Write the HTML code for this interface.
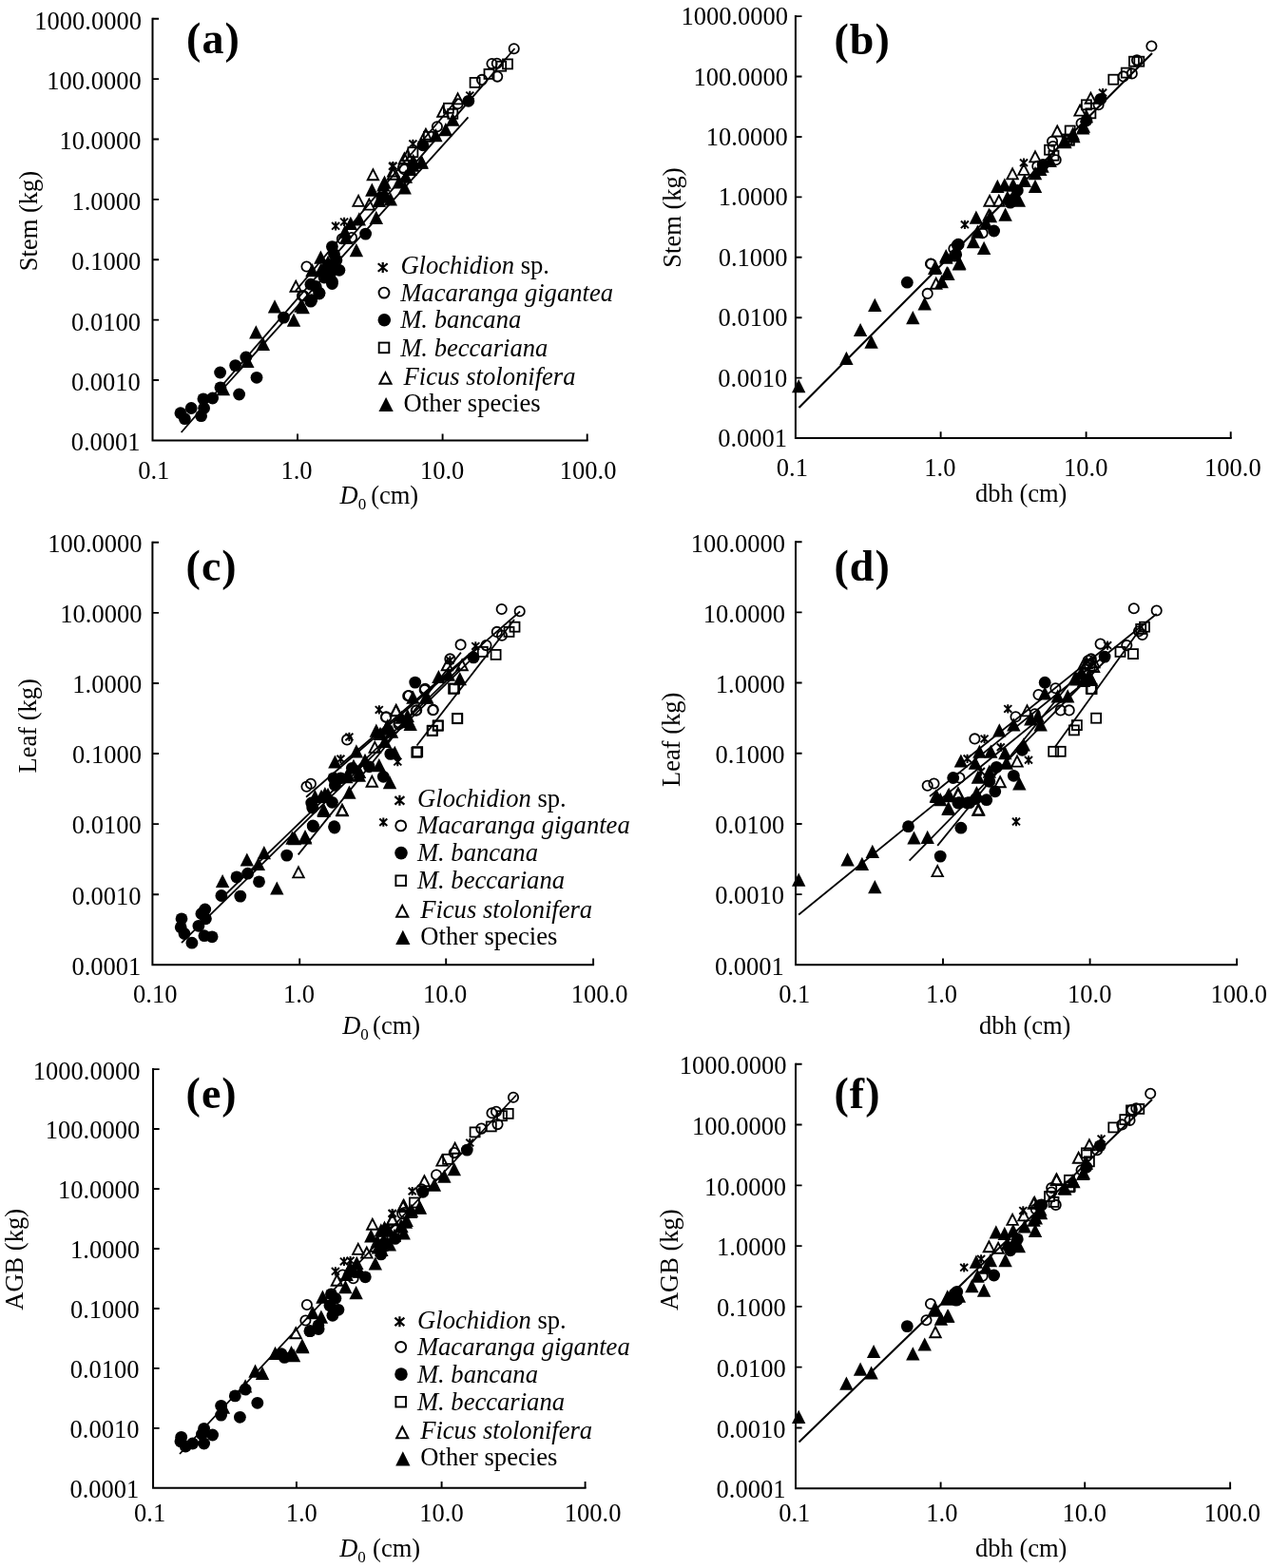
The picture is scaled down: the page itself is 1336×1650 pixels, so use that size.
<!DOCTYPE html>
<html lang="en"><head><meta charset="utf-8"><title>Allometric relationships</title>
<style>html,body{margin:0;padding:0;background:#fff}svg{display:block}text{font-family:'Liberation Serif','Times New Roman',Times,serif;fill:#000}.tk{font-size:26.5px}.ax{font-size:26.5px}.tag{font-size:46px;font-weight:bold;letter-spacing:1px}.lg{font-size:26.6px}.i{font-style:italic}</style></head><body>
<svg width="1336" height="1650" viewBox="0 0 1336 1650" role="img" aria-label="Allometric relationships between stem diameter and stem, leaf and aboveground biomass">
<rect width="1336" height="1650" fill="#fff"/>
<defs><g id="fc"><circle r="6.4" fill="#000"/></g><g id="oc"><circle r="5.15" fill="none" stroke="#000" stroke-width="1.8"/></g><g id="sq"><rect x="-5" y="-5" width="10" height="10" fill="none" stroke="#000" stroke-width="1.8"/></g><g id="ot"><path d="M0 -5L5.7 6L-5.7 6Z" fill="none" stroke="#000" stroke-width="1.9" stroke-linejoin="miter"/></g><g id="ft"><path d="M0 -7.2L7.2 7L-7.2 7Z" fill="#000"/></g><g id="st"><path d="M0 -4.6V4.6M-4 -3.8L4 3.8M4 -3.8L-4 3.8" stroke="#000" stroke-width="2" fill="none"/></g><g id="stl"><path d="M0 -5.2V5.2M-4.7 -4L4.7 4M4.7 -4L-4.7 4" stroke="#000" stroke-width="2.1" fill="none"/></g></defs>
<g id="panel-a">
<path d="M160.5 18.8V463.4H618.7" fill="none" stroke="#000" stroke-width="2"/>
<path d="M160.5 19.8h6.6M160.5 83.17h6.6M160.5 146.54h6.6M160.5 209.91h6.6M160.5 273.29h6.6M160.5 336.66h6.6M160.5 400.03h6.6M313 463.4v-6.8M465.6 463.4v-6.8M617.7 463.4v-6.8" fill="none" stroke="#000" stroke-width="1.9"/>
<text class="tk" x="148.9" y="30.7" text-anchor="end">1000.0000</text>
<text class="tk" x="148.71" y="94.07" text-anchor="end">100.0000</text>
<text class="tk" x="148.53" y="157.44" text-anchor="end">10.0000</text>
<text class="tk" x="148.34" y="220.81" text-anchor="end">1.0000</text>
<text class="tk" x="148.16" y="284.19" text-anchor="end">0.1000</text>
<text class="tk" x="147.97" y="347.56" text-anchor="end">0.0100</text>
<text class="tk" x="147.79" y="410.93" text-anchor="end">0.0010</text>
<text class="tk" x="147.6" y="474.3" text-anchor="end">0.0001</text>
<text class="tk" x="145.2" y="504.2">0.1</text>
<text class="tk" x="295.4" y="504.2">1.0</text>
<text class="tk" x="441.9" y="504.2">10.0</text>
<text class="tk" x="588.8" y="504.2">100.0</text>
<text class="tag" x="196.1" y="55.8">(a)</text>
<text class="ax" transform="translate(39 232.6) rotate(-90)" text-anchor="middle">Stem (kg)</text>
<text class="ax" x="357.5" y="530.2"><tspan class="i">D</tspan><tspan font-size="17" dy="5.5">0</tspan><tspan dy="-5.5" dx="-1.6"> (cm)</tspan></text>
<line x1="190.7" y1="455" x2="541.5" y2="51" stroke="#000" stroke-width="1.85"/>
<line x1="236" y1="407.5" x2="492.5" y2="123.3" stroke="#000" stroke-width="1.85"/>
<line x1="311" y1="306" x2="481.6" y2="104" stroke="#000" stroke-width="1.85"/>
<use href="#ot" x="392.4" y="183.2"/>
<use href="#ot" x="377.1" y="210.9"/>
<use href="#ot" x="388.3" y="214.6"/>
<use href="#ot" x="413.8" y="179.5"/>
<use href="#ot" x="311.2" y="300.7"/>
<use href="#ot" x="428.7" y="163"/>
<use href="#ot" x="481.6" y="103.4"/>
<use href="#ot" x="465.9" y="116.8"/>
<use href="#ot" x="447.9" y="140.8"/>
<use href="#ot" x="425.4" y="166.2"/>
<use href="#ot" x="413.5" y="182.7"/>
<use href="#sq" x="534" y="67.4"/>
<use href="#sq" x="527.2" y="69.7"/>
<use href="#sq" x="514.5" y="77.9"/>
<use href="#sq" x="499.6" y="86.9"/>
<use href="#sq" x="471.9" y="113.8"/>
<use href="#sq" x="450.9" y="143.8"/>
<use href="#sq" x="434.4" y="160.2"/>
<use href="#sq" x="476.3" y="119.8"/>
<use href="#oc" x="322.5" y="280.5"/>
<use href="#oc" x="318" y="311.2"/>
<use href="#oc" x="424" y="176.5"/>
<use href="#oc" x="359.9" y="251.3"/>
<use href="#oc" x="370" y="250"/>
<use href="#oc" x="319.4" y="311.2"/>
<use href="#oc" x="540.7" y="51.3"/>
<use href="#oc" x="517.5" y="67.1"/>
<use href="#oc" x="522.8" y="66.7"/>
<use href="#oc" x="523.2" y="80.6"/>
<use href="#oc" x="507" y="83.9"/>
<use href="#oc" x="481.6" y="109.3"/>
<use href="#oc" x="459.9" y="133.3"/>
<use href="#oc" x="425.4" y="178.2"/>
<use href="#st" x="353.1" y="237.8"/>
<use href="#st" x="362.1" y="233.4"/>
<use href="#st" x="413" y="175"/>
<use href="#st" x="494.3" y="100.4"/>
<use href="#st" x="434.4" y="151.3"/>
<use href="#st" x="413.5" y="174.5"/>
<use href="#ft" x="234.9" y="409.3"/>
<use href="#ft" x="260.3" y="380"/>
<use href="#ft" x="269.3" y="349.4"/>
<use href="#ft" x="276.8" y="362"/>
<use href="#ft" x="289" y="322.5"/>
<use href="#ft" x="309" y="336.7"/>
<use href="#ft" x="318.7" y="323.2"/>
<use href="#ft" x="374.9" y="263.3"/>
<use href="#ft" x="395.8" y="228.9"/>
<use href="#ft" x="391.3" y="199.7"/>
<use href="#ft" x="403.3" y="194.4"/>
<use href="#ft" x="425.7" y="197.4"/>
<use href="#ft" x="443.7" y="170.5"/>
<use href="#ft" x="377.8" y="230.4"/>
<use href="#ft" x="368.9" y="234.9"/>
<use href="#ft" x="337.4" y="270.8"/>
<use href="#ft" x="328.4" y="284.3"/>
<use href="#ft" x="337.4" y="284.3"/>
<use href="#ft" x="316.5" y="321.7"/>
<use href="#ft" x="404.8" y="203.4"/>
<use href="#ft" x="398.8" y="210.9"/>
<use href="#ft" x="410.8" y="209.4"/>
<use href="#ft" x="419.8" y="191.4"/>
<use href="#ft" x="431.7" y="178"/>
<use href="#ft" x="362.9" y="243.8"/>
<use href="#ft" x="434.7" y="169"/>
<use href="#ft" x="476.3" y="125.8"/>
<use href="#ft" x="468.9" y="136.3"/>
<use href="#ft" x="458.4" y="142.3"/>
<use href="#ft" x="443.4" y="170.7"/>
<use href="#ft" x="434.4" y="173.7"/>
<use href="#ft" x="426.9" y="185.7"/>
<use href="#ft" x="404.5" y="191.7"/>
<use href="#fc" x="189.9" y="434.7"/>
<use href="#fc" x="194.4" y="440.7"/>
<use href="#fc" x="201.2" y="429.5"/>
<use href="#fc" x="211.6" y="437.7"/>
<use href="#fc" x="214.6" y="429.5"/>
<use href="#fc" x="213.9" y="419.8"/>
<use href="#fc" x="223.6" y="419"/>
<use href="#fc" x="231.9" y="407.8"/>
<use href="#fc" x="231.6" y="392"/>
<use href="#fc" x="251.6" y="415"/>
<use href="#fc" x="270" y="397.3"/>
<use href="#fc" x="247.6" y="384.6"/>
<use href="#fc" x="258.8" y="376"/>
<use href="#fc" x="298.5" y="334.1"/>
<use href="#fc" x="327.7" y="315.7"/>
<use href="#fc" x="335.9" y="309"/>
<use href="#fc" x="332.2" y="301.5"/>
<use href="#fc" x="349.4" y="298.5"/>
<use href="#fc" x="384.6" y="246.1"/>
<use href="#fc" x="349.4" y="259.6"/>
<use href="#fc" x="353.9" y="273.8"/>
<use href="#fc" x="356.9" y="284.3"/>
<use href="#fc" x="349.4" y="296.2"/>
<use href="#fc" x="326.9" y="299.2"/>
<use href="#fc" x="335.9" y="308.2"/>
<use href="#fc" x="326.9" y="317.2"/>
<use href="#fc" x="346.4" y="278.3"/>
<use href="#fc" x="401.8" y="207.9"/>
<use href="#fc" x="492.8" y="106.3"/>
<use href="#fc" x="444.9" y="152.8"/>
<use href="#fc" x="351.5" y="267.5"/>
<use href="#fc" x="352.4" y="281"/>
<use href="#fc" x="347.5" y="288"/>
<use href="#fc" x="343" y="282.5"/>
<use href="#fc" x="341" y="292"/>
<use href="#ft" x="364" y="250"/>
<use href="#ft" x="345" y="276"/>
<use href="#stl" transform="translate(402.7 281.5) scale(1.06)"/>
<text class="lg" x="421.4" y="288.2"><tspan class="i">Glochidion</tspan> sp.</text>
<use href="#oc" transform="translate(404 308.1) scale(1.06)"/>
<text class="lg" x="421.2" y="316.5"><tspan class="i">Macaranga gigantea</tspan></text>
<use href="#fc" transform="translate(404.3 336.8) scale(1.06)"/>
<text class="lg" x="421.2" y="345.4"><tspan class="i">M. bancana</tspan></text>
<use href="#sq" transform="translate(404 365.9) scale(1.06)"/>
<text class="lg" x="421.2" y="374.5"><tspan class="i">M. beccariana</tspan></text>
<use href="#ot" transform="translate(405.5 397.5) scale(1.06)"/>
<text class="lg" x="424.5" y="404.8"><tspan class="i">Ficus stolonifera</tspan></text>
<use href="#ft" transform="translate(406.1 425.7) scale(1.06)"/>
<text class="lg" x="424.6" y="432.7">Other species</text>
</g>
<g id="panel-b">
<path d="M836.9 16.1V461.1H1295.7" fill="none" stroke="#000" stroke-width="2"/>
<path d="M836.9 17.1h6.6M836.9 80.53h6.6M836.9 143.96h6.6M836.9 207.39h6.6M836.9 270.81h6.6M836.9 334.24h6.6M836.9 397.67h6.6M989.6 461.1v-6.8M1142.6 461.1v-6.8M1294.7 461.1v-6.8" fill="none" stroke="#000" stroke-width="1.9"/>
<text class="tk" x="829.1" y="26.2" text-anchor="end">1000.0000</text>
<text class="tk" x="828.96" y="89.63" text-anchor="end">100.0000</text>
<text class="tk" x="828.81" y="153.06" text-anchor="end">10.0000</text>
<text class="tk" x="828.67" y="216.49" text-anchor="end">1.0000</text>
<text class="tk" x="828.53" y="279.91" text-anchor="end">0.1000</text>
<text class="tk" x="828.39" y="343.34" text-anchor="end">0.0100</text>
<text class="tk" x="828.24" y="406.77" text-anchor="end">0.0010</text>
<text class="tk" x="828.1" y="470.2" text-anchor="end">0.0001</text>
<text class="tk" x="816.8" y="501.2">0.1</text>
<text class="tk" x="972.3" y="501.2">1.0</text>
<text class="tk" x="1119" y="501.2">10.0</text>
<text class="tk" x="1267" y="501.2">100.0</text>
<text class="tag" x="877.5" y="56.9">(b)</text>
<text class="ax" transform="translate(715.5 229) rotate(-90)" text-anchor="middle">Stem (kg)</text>
<text class="ax" x="1026" y="528.3">dbh (cm)</text>
<line x1="840.5" y1="429" x2="1212" y2="56" stroke="#000" stroke-width="2.1"/>
<use href="#ot" x="984.7" y="297.7"/>
<use href="#ot" x="1041.1" y="210.8"/>
<use href="#ot" x="1050.8" y="210.8"/>
<use href="#ot" x="1065.1" y="182.4"/>
<use href="#ot" x="1077" y="177.9"/>
<use href="#ot" x="1089" y="164.4"/>
<use href="#ot" x="1112.2" y="137.5"/>
<use href="#ot" x="1040.4" y="225.8"/>
<use href="#ot" x="1147.4" y="102.8"/>
<use href="#ot" x="1136.1" y="115.6"/>
<use href="#sq" x="1104" y="157.7"/>
<use href="#sq" x="1108.5" y="163.7"/>
<use href="#sq" x="1125.7" y="137.5"/>
<use href="#sq" x="1122.7" y="146.5"/>
<use href="#sq" x="1198.3" y="64.7"/>
<use href="#sq" x="1193" y="64.7"/>
<use href="#sq" x="1184.8" y="76.6"/>
<use href="#sq" x="1171.3" y="83.7"/>
<use href="#sq" x="1142.9" y="110.3"/>
<use href="#sq" x="1147.4" y="119.3"/>
<use href="#sq" x="1124.9" y="147.8"/>
<use href="#oc" x="979.5" y="277.8"/>
<use href="#oc" x="975.7" y="308.9"/>
<use href="#oc" x="1003.4" y="261.7"/>
<use href="#oc" x="979" y="277.5"/>
<use href="#oc" x="1033.6" y="245.3"/>
<use href="#oc" x="1110.7" y="168.2"/>
<use href="#oc" x="1107" y="148.7"/>
<use href="#oc" x="1091.3" y="174.9"/>
<use href="#oc" x="1107.7" y="154"/>
<use href="#oc" x="1211.4" y="48.5"/>
<use href="#oc" x="1196" y="63.2"/>
<use href="#oc" x="1190.8" y="77.4"/>
<use href="#oc" x="1181.8" y="80.4"/>
<use href="#oc" x="1155.6" y="110.3"/>
<use href="#oc" x="1137.6" y="129.8"/>
<use href="#st" x="1014.9" y="236.3"/>
<use href="#st" x="1077" y="171.2"/>
<use href="#st" x="1160.1" y="97.6"/>
<use href="#ft" x="840.2" y="406.2"/>
<use href="#ft" x="890.4" y="377"/>
<use href="#ft" x="916.6" y="359.8"/>
<use href="#ft" x="905.1" y="347.1"/>
<use href="#ft" x="920.3" y="320.9"/>
<use href="#ft" x="960.3" y="334.3"/>
<use href="#ft" x="972.7" y="319.4"/>
<use href="#ft" x="983.2" y="281.9"/>
<use href="#ft" x="990.7" y="296.2"/>
<use href="#ft" x="997.4" y="287.9"/>
<use href="#ft" x="1009.4" y="276.7"/>
<use href="#ft" x="995.2" y="269.2"/>
<use href="#ft" x="1035.1" y="261"/>
<use href="#ft" x="1008.9" y="277.5"/>
<use href="#ft" x="995.4" y="270.7"/>
<use href="#ft" x="996.2" y="287.2"/>
<use href="#ft" x="984.2" y="281.2"/>
<use href="#ft" x="1023.9" y="254.3"/>
<use href="#ft" x="1057.6" y="225.8"/>
<use href="#ft" x="1026.9" y="228.8"/>
<use href="#ft" x="1041.9" y="227.3"/>
<use href="#ft" x="1049.3" y="195.9"/>
<use href="#ft" x="1056.8" y="194.4"/>
<use href="#ft" x="1065.8" y="194.4"/>
<use href="#ft" x="1071.8" y="210.8"/>
<use href="#ft" x="1089" y="195.9"/>
<use href="#ft" x="1077.8" y="189.9"/>
<use href="#ft" x="1067.3" y="204.9"/>
<use href="#ft" x="1094.3" y="177.9"/>
<use href="#ft" x="1104.7" y="168.9"/>
<use href="#ft" x="1128.7" y="140.5"/>
<use href="#ft" x="1139.2" y="134.5"/>
<use href="#ft" x="1119.7" y="148"/>
<use href="#ft" x="1059.8" y="207.8"/>
<use href="#ft" x="1028.4" y="243.8"/>
<use href="#ft" x="1037.4" y="234.8"/>
<use href="#ft" x="1139.9" y="132.8"/>
<use href="#ft" x="1129.4" y="143.3"/>
<use href="#ft" x="1120.4" y="149.3"/>
<use href="#ft" x="1096.5" y="174.7"/>
<use href="#ft" x="1089" y="182.2"/>
<use href="#ft" x="1142.9" y="122.3"/>
<use href="#fc" x="954.3" y="297.2"/>
<use href="#fc" x="1007.2" y="258"/>
<use href="#fc" x="1005.7" y="267.7"/>
<use href="#fc" x="1045.6" y="243"/>
<use href="#fc" x="1008.2" y="257.2"/>
<use href="#fc" x="1004.4" y="269.2"/>
<use href="#fc" x="1062.8" y="213.1"/>
<use href="#fc" x="1070.3" y="200.4"/>
<use href="#fc" x="1097.2" y="173.4"/>
<use href="#fc" x="1157.8" y="104.3"/>
<use href="#fc" x="1142.9" y="126.8"/>
</g>
<g id="panel-c">
<path d="M160.4 569.8V1015.3H625.1" fill="none" stroke="#000" stroke-width="2"/>
<path d="M160.4 570.8h6.6M160.4 644.88h6.6M160.4 718.97h6.6M160.4 793.05h6.6M160.4 867.13h6.6M160.4 941.22h6.6M315.2 1015.3v-6.8M469.2 1015.3v-6.8M624.1 1015.3v-6.8" fill="none" stroke="#000" stroke-width="1.9"/>
<text class="tk" x="149.6" y="581.1" text-anchor="end">100.0000</text>
<text class="tk" x="149.38" y="655.18" text-anchor="end">10.0000</text>
<text class="tk" x="149.17" y="729.27" text-anchor="end">1.0000</text>
<text class="tk" x="148.95" y="803.35" text-anchor="end">0.1000</text>
<text class="tk" x="148.73" y="877.43" text-anchor="end">0.0100</text>
<text class="tk" x="148.52" y="951.52" text-anchor="end">0.0010</text>
<text class="tk" x="148.3" y="1025.6" text-anchor="end">0.0001</text>
<text class="tk" x="140.1" y="1055.2">0.10</text>
<text class="tk" x="297.9" y="1055.2">1.0</text>
<text class="tk" x="444.9" y="1055.2">10.0</text>
<text class="tk" x="600.8" y="1055.2">100.0</text>
<text class="tag" x="195.6" y="610.9">(c)</text>
<text class="ax" transform="translate(38.2 763.8) rotate(-90)" text-anchor="middle">Leaf (kg)</text>
<text class="ax" x="360.2" y="1088.3"><tspan class="i">D</tspan><tspan font-size="17" dy="5.5">0</tspan><tspan dy="-5.5" dx="-2.4"> (cm)</tspan></text>
<line x1="191" y1="992.2" x2="498" y2="691.6" stroke="#000" stroke-width="1.8"/>
<line x1="238" y1="940.5" x2="484" y2="702.6" stroke="#000" stroke-width="1.8"/>
<line x1="313.7" y1="899.4" x2="484.9" y2="686.6" stroke="#000" stroke-width="1.8"/>
<line x1="322" y1="838.7" x2="547" y2="643.5" stroke="#000" stroke-width="1.8"/>
<line x1="438.5" y1="784.5" x2="541" y2="652" stroke="#000" stroke-width="1.8"/>
<line x1="358" y1="805" x2="500" y2="683" stroke="#000" stroke-width="1.8"/>
<use href="#ot" x="314" y="917.4"/>
<use href="#ot" x="360.1" y="852.2"/>
<use href="#ot" x="416.8" y="746.9"/>
<use href="#ot" x="391.3" y="821.8"/>
<use href="#ot" x="359.9" y="851.7"/>
<use href="#ot" x="394.3" y="785.9"/>
<use href="#ot" x="486.1" y="699.3"/>
<use href="#ot" x="470.4" y="699.3"/>
<use href="#ot" x="416.5" y="747.2"/>
<use href="#sq" x="439.2" y="791.1"/>
<use href="#sq" x="454.9" y="768.7"/>
<use href="#sq" x="460.9" y="763.4"/>
<use href="#sq" x="481.1" y="755.9"/>
<use href="#sq" x="478.1" y="724.5"/>
<use href="#sq" x="541.5" y="659.7"/>
<use href="#sq" x="535.5" y="664.9"/>
<use href="#sq" x="521.6" y="688.9"/>
<use href="#sq" x="507.8" y="685.9"/>
<use href="#sq" x="477.1" y="724.8"/>
<use href="#sq" x="481.3" y="756.2"/>
<use href="#sq" x="460.6" y="763.7"/>
<use href="#sq" x="454.6" y="769"/>
<use href="#oc" x="365.1" y="778.4"/>
<use href="#oc" x="326.9" y="824.8"/>
<use href="#oc" x="322.5" y="827.8"/>
<use href="#oc" x="406.3" y="754.4"/>
<use href="#oc" x="455.7" y="746.9"/>
<use href="#oc" x="437.7" y="747.7"/>
<use href="#oc" x="430.2" y="732"/>
<use href="#oc" x="446.7" y="726"/>
<use href="#oc" x="419.8" y="760.4"/>
<use href="#oc" x="527.7" y="641"/>
<use href="#oc" x="546.7" y="643.2"/>
<use href="#oc" x="522.8" y="664.9"/>
<use href="#oc" x="528" y="668.7"/>
<use href="#oc" x="511.5" y="679.1"/>
<use href="#oc" x="484.6" y="678.4"/>
<use href="#oc" x="473.4" y="693.4"/>
<use href="#oc" x="447.2" y="724.8"/>
<use href="#oc" x="429.2" y="732.3"/>
<use href="#oc" x="455.4" y="747.2"/>
<use href="#oc" x="438.2" y="747.2"/>
<use href="#oc" x="406" y="754.7"/>
<use href="#oc" x="419.5" y="762.2"/>
<use href="#st" x="398.8" y="746.9"/>
<use href="#st" x="367.4" y="775.4"/>
<use href="#st" x="358.4" y="798.6"/>
<use href="#st" x="418.3" y="801.6"/>
<use href="#st" x="403.3" y="865.2"/>
<use href="#st" x="500.3" y="679.9"/>
<use href="#st" x="473.4" y="694.9"/>
<use href="#ft" x="234.1" y="927.1"/>
<use href="#ft" x="259.8" y="904.6"/>
<use href="#ft" x="271.8" y="909.1"/>
<use href="#ft" x="277.8" y="897.2"/>
<use href="#ft" x="291.3" y="934.6"/>
<use href="#ft" x="310" y="882.2"/>
<use href="#ft" x="321.2" y="881.4"/>
<use href="#ft" x="340.7" y="853"/>
<use href="#ft" x="395.8" y="768.7"/>
<use href="#ft" x="407.8" y="763.4"/>
<use href="#ft" x="428.7" y="752.9"/>
<use href="#ft" x="431.7" y="761.9"/>
<use href="#ft" x="374.9" y="790.4"/>
<use href="#ft" x="352.4" y="801.6"/>
<use href="#ft" x="371.9" y="806.8"/>
<use href="#ft" x="398.8" y="805.3"/>
<use href="#ft" x="415.3" y="791.9"/>
<use href="#ft" x="410" y="823.3"/>
<use href="#ft" x="367.4" y="833.8"/>
<use href="#ft" x="377.8" y="815.8"/>
<use href="#ft" x="340.4" y="851.7"/>
<use href="#ft" x="331.4" y="838.3"/>
<use href="#ft" x="341.9" y="835.3"/>
<use href="#ft" x="448.2" y="733.5"/>
<use href="#ft" x="307.5" y="881.7"/>
<use href="#ft" x="321" y="880.2"/>
<use href="#ft" x="364.4" y="817.3"/>
<use href="#ft" x="404.8" y="779.9"/>
<use href="#ft" x="461.4" y="712.1"/>
<use href="#ft" x="471.9" y="709.8"/>
<use href="#ft" x="483.8" y="714.3"/>
<use href="#ft" x="449.4" y="733.8"/>
<use href="#ft" x="434.4" y="733.8"/>
<use href="#ft" x="429.9" y="759.2"/>
<use href="#ft" x="422.5" y="754.7"/>
<use href="#ft" x="406" y="766.7"/>
<use href="#ft" x="412" y="769.7"/>
<use href="#fc" x="191" y="966.8"/>
<use href="#fc" x="190.2" y="975.7"/>
<use href="#fc" x="194" y="982.5"/>
<use href="#fc" x="201.9" y="992.2"/>
<use href="#fc" x="208.9" y="974.3"/>
<use href="#fc" x="211.9" y="961.5"/>
<use href="#fc" x="215.7" y="957"/>
<use href="#fc" x="216.4" y="966.8"/>
<use href="#fc" x="214.9" y="984.7"/>
<use href="#fc" x="223.1" y="985.8"/>
<use href="#fc" x="232.9" y="942.5"/>
<use href="#fc" x="252.8" y="943.1"/>
<use href="#fc" x="249" y="922.9"/>
<use href="#fc" x="260.6" y="919.2"/>
<use href="#fc" x="272.5" y="927.8"/>
<use href="#fc" x="301.7" y="900.1"/>
<use href="#fc" x="329.4" y="869.5"/>
<use href="#fc" x="351.9" y="871"/>
<use href="#fc" x="328.7" y="850"/>
<use href="#fc" x="350.9" y="818.8"/>
<use href="#fc" x="358.4" y="818.8"/>
<use href="#fc" x="352.4" y="826.3"/>
<use href="#fc" x="327.7" y="845"/>
<use href="#fc" x="349.4" y="844.3"/>
<use href="#fc" x="329.2" y="869"/>
<use href="#fc" x="351.6" y="869.7"/>
<use href="#fc" x="388.3" y="806.8"/>
<use href="#fc" x="403.3" y="817.3"/>
<use href="#fc" x="410.8" y="793.4"/>
<use href="#fc" x="370.4" y="808.3"/>
<use href="#fc" x="498.1" y="691.9"/>
<use href="#fc" x="436.7" y="718.1"/>
<use href="#ft" x="372" y="806"/>
<use href="#ft" x="378" y="812"/>
<use href="#ft" x="366" y="815"/>
<use href="#ft" x="338" y="838"/>
<use href="#ft" x="345" y="836"/>
<use href="#ft" x="384" y="800"/>
<use href="#ft" x="400" y="772"/>
<use href="#sq" x="438.3" y="791.8"/>
<use href="#stl" transform="translate(420.4 842.3) scale(1.06)"/>
<text class="lg" x="439.1" y="849"><tspan class="i">Glochidion</tspan> sp.</text>
<use href="#oc" transform="translate(421.7 868.9) scale(1.06)"/>
<text class="lg" x="438.9" y="877.3"><tspan class="i">Macaranga gigantea</tspan></text>
<use href="#fc" transform="translate(422 897.6) scale(1.06)"/>
<text class="lg" x="438.9" y="906.2"><tspan class="i">M. bancana</tspan></text>
<use href="#sq" transform="translate(421.7 926.7) scale(1.06)"/>
<text class="lg" x="438.9" y="935.3"><tspan class="i">M. beccariana</tspan></text>
<use href="#ot" transform="translate(423.2 958.3) scale(1.06)"/>
<text class="lg" x="442.2" y="965.6"><tspan class="i">Ficus stolonifera</tspan></text>
<use href="#ft" transform="translate(423.8 986.5) scale(1.06)"/>
<text class="lg" x="442.3" y="993.5">Other species</text>
</g>
<g id="panel-d">
<path d="M837 569.2V1015.3H1302.1" fill="none" stroke="#000" stroke-width="2"/>
<path d="M837 570.2h6.6M837 644.38h6.6M837 718.57h6.6M837 792.75h6.6M837 866.93h6.6M837 941.12h6.6M992 1015.3v-6.8M1146.6 1015.3v-6.8M1301.1 1015.3v-6.8" fill="none" stroke="#000" stroke-width="1.9"/>
<text class="tk" x="826.1" y="580.5" text-anchor="end">100.0000</text>
<text class="tk" x="825.88" y="654.68" text-anchor="end">10.0000</text>
<text class="tk" x="825.67" y="728.87" text-anchor="end">1.0000</text>
<text class="tk" x="825.45" y="803.05" text-anchor="end">0.1000</text>
<text class="tk" x="825.23" y="877.23" text-anchor="end">0.0100</text>
<text class="tk" x="825.02" y="951.42" text-anchor="end">0.0010</text>
<text class="tk" x="824.8" y="1025.6" text-anchor="end">0.0001</text>
<text class="tk" x="819.2" y="1055.2">0.1</text>
<text class="tk" x="973.9" y="1055.2">1.0</text>
<text class="tk" x="1123" y="1055.2">10.0</text>
<text class="tk" x="1273.4" y="1055.2">100.0</text>
<text class="tag" x="877.5" y="610.9">(d)</text>
<text class="ax" transform="translate(714.7 778.3) rotate(-90)" text-anchor="middle">Leaf (kg)</text>
<text class="ax" x="1030" y="1088.3">dbh (cm)</text>
<line x1="840.2" y1="962.5" x2="1147" y2="713" stroke="#000" stroke-width="1.8"/>
<line x1="956.6" y1="905.6" x2="1162" y2="696" stroke="#000" stroke-width="1.8"/>
<line x1="986.2" y1="889.9" x2="1150" y2="688.7" stroke="#000" stroke-width="1.8"/>
<line x1="1109.7" y1="786.3" x2="1203" y2="657" stroke="#000" stroke-width="1.8"/>
<line x1="978" y1="838" x2="1216.7" y2="646" stroke="#000" stroke-width="1.8"/>
<line x1="1017.6" y1="798" x2="1165" y2="680" stroke="#000" stroke-width="1.8"/>
<use href="#ot" x="986.2" y="916.1"/>
<use href="#ot" x="1028.9" y="851.7"/>
<use href="#ot" x="1007.9" y="835.2"/>
<use href="#ot" x="1080.5" y="747.4"/>
<use href="#ot" x="1070" y="800.6"/>
<use href="#ot" x="1052.1" y="822.3"/>
<use href="#ot" x="1007.9" y="834.3"/>
<use href="#ot" x="1029.6" y="851.5"/>
<use href="#ot" x="1150.8" y="696.3"/>
<use href="#ot" x="1140.4" y="697.8"/>
<use href="#sq" x="1108.2" y="790.8"/>
<use href="#sq" x="1115.7" y="790.8"/>
<use href="#sq" x="1129.9" y="768.4"/>
<use href="#sq" x="1132.9" y="763.1"/>
<use href="#sq" x="1153.1" y="755.7"/>
<use href="#sq" x="1148.6" y="725"/>
<use href="#sq" x="1204" y="659.7"/>
<use href="#sq" x="1178.5" y="685.9"/>
<use href="#sq" x="1192" y="688.1"/>
<use href="#sq" x="1147.8" y="724.8"/>
<use href="#sq" x="1200.2" y="661.9"/>
<use href="#oc" x="1025.4" y="777.4"/>
<use href="#oc" x="975.7" y="826.8"/>
<use href="#oc" x="982.5" y="824.5"/>
<use href="#oc" x="1068.5" y="754.2"/>
<use href="#oc" x="1115.7" y="747.4"/>
<use href="#oc" x="1124.7" y="747.4"/>
<use href="#oc" x="1092.5" y="731"/>
<use href="#oc" x="1110.4" y="724.2"/>
<use href="#oc" x="1009.4" y="818.5"/>
<use href="#oc" x="1088.7" y="751.2"/>
<use href="#oc" x="1192.8" y="640.2"/>
<use href="#oc" x="1216.7" y="642.5"/>
<use href="#oc" x="1198" y="664.2"/>
<use href="#oc" x="1201.7" y="667.9"/>
<use href="#oc" x="1185.3" y="679.1"/>
<use href="#oc" x="1157.6" y="677.6"/>
<use href="#oc" x="1147.8" y="693.4"/>
<use href="#st" x="1060.3" y="745.9"/>
<use href="#st" x="1035.6" y="777.4"/>
<use href="#st" x="1017.6" y="798.3"/>
<use href="#st" x="1082" y="799.8"/>
<use href="#st" x="1052.8" y="786.3"/>
<use href="#st" x="1069" y="864.6"/>
<use href="#st" x="1031.9" y="811.8"/>
<use href="#st" x="1165.1" y="679.1"/>
<use href="#ft" x="840.2" y="925.8"/>
<use href="#ft" x="891.6" y="904.4"/>
<use href="#ft" x="906.9" y="908.9"/>
<use href="#ft" x="917.8" y="895.9"/>
<use href="#ft" x="920.3" y="933.3"/>
<use href="#ft" x="961.5" y="881.6"/>
<use href="#ft" x="975.7" y="880.9"/>
<use href="#ft" x="998.2" y="851"/>
<use href="#ft" x="989.2" y="841.2"/>
<use href="#ft" x="984.7" y="837.5"/>
<use href="#ft" x="998.2" y="836"/>
<use href="#ft" x="1051.3" y="768.4"/>
<use href="#ft" x="1066.3" y="762.4"/>
<use href="#ft" x="1091.7" y="753.4"/>
<use href="#ft" x="1094.7" y="762.4"/>
<use href="#ft" x="1030.4" y="790.8"/>
<use href="#ft" x="1010.9" y="800.6"/>
<use href="#ft" x="1042.3" y="790.8"/>
<use href="#ft" x="1057.3" y="792.3"/>
<use href="#ft" x="1076.8" y="783.4"/>
<use href="#ft" x="1072.3" y="824.5"/>
<use href="#ft" x="1028.9" y="817.8"/>
<use href="#ft" x="1040.8" y="811.8"/>
<use href="#ft" x="1058.8" y="802.8"/>
<use href="#ft" x="997.4" y="850.7"/>
<use href="#ft" x="985.4" y="838"/>
<use href="#ft" x="997.4" y="837.3"/>
<use href="#ft" x="1027.4" y="834.3"/>
<use href="#ft" x="1112.7" y="732.5"/>
<use href="#ft" x="1123.2" y="732.5"/>
<use href="#ft" x="1099.2" y="729.5"/>
<use href="#ft" x="1132.2" y="714.5"/>
<use href="#ft" x="1147.1" y="713"/>
<use href="#ft" x="1025.9" y="802.8"/>
<use href="#ft" x="1084.3" y="756.4"/>
<use href="#ft" x="1131.4" y="712.8"/>
<use href="#ft" x="1144.9" y="711.3"/>
<use href="#fc" x="955.5" y="869.7"/>
<use href="#fc" x="989.2" y="901.1"/>
<use href="#fc" x="1010.9" y="871.2"/>
<use href="#fc" x="1007.9" y="845"/>
<use href="#fc" x="1017.6" y="845"/>
<use href="#fc" x="1026.6" y="840.5"/>
<use href="#fc" x="1099.2" y="718.2"/>
<use href="#fc" x="1002.7" y="818.5"/>
<use href="#fc" x="1048.3" y="807.3"/>
<use href="#fc" x="1040.8" y="822.3"/>
<use href="#fc" x="1046.8" y="832.8"/>
<use href="#fc" x="1037.8" y="841.7"/>
<use href="#fc" x="1009.4" y="844.7"/>
<use href="#fc" x="1019.9" y="844.7"/>
<use href="#fc" x="1066.3" y="816.3"/>
<use href="#fc" x="1075.3" y="789.3"/>
<use href="#fc" x="1162.1" y="691.1"/>
<use href="#ot" x="1143" y="697"/>
<use href="#ot" x="1150.5" y="701"/>
<use href="#sq" x="1146.5" y="700.5"/>
<use href="#ft" x="1138" y="708"/>
<use href="#ft" x="1148" y="715"/>
<use href="#ft" x="1140" y="716"/>
<use href="#oc" x="1145" y="695"/>
</g>
<g id="panel-e">
<path d="M161.05 1124.1V1565.8H616.6" fill="none" stroke="#000" stroke-width="2"/>
<path d="M161.05 1125.1h6.6M161.05 1188.06h6.6M161.05 1251.01h6.6M161.05 1313.97h6.6M161.05 1376.93h6.6M161.05 1439.89h6.6M161.05 1502.84h6.6M311.9 1565.8v-6.8M464.6 1565.8v-6.8M615.6 1565.8v-6.8" fill="none" stroke="#000" stroke-width="1.9"/>
<text class="tk" x="147.4" y="1135.5" text-anchor="end">1000.0000</text>
<text class="tk" x="147.24" y="1198.46" text-anchor="end">100.0000</text>
<text class="tk" x="147.09" y="1261.41" text-anchor="end">10.0000</text>
<text class="tk" x="146.93" y="1324.37" text-anchor="end">1.0000</text>
<text class="tk" x="146.77" y="1387.33" text-anchor="end">0.1000</text>
<text class="tk" x="146.61" y="1450.29" text-anchor="end">0.0100</text>
<text class="tk" x="146.46" y="1513.24" text-anchor="end">0.0010</text>
<text class="tk" x="146.3" y="1576.2" text-anchor="end">0.0001</text>
<text class="tk" x="141.1" y="1600.8">0.1</text>
<text class="tk" x="300.7" y="1600.8">1.0</text>
<text class="tk" x="441.3" y="1600.8">10.0</text>
<text class="tk" x="593.8" y="1600.8">100.0</text>
<text class="tag" x="195.6" y="1165.8">(e)</text>
<text class="ax" transform="translate(24 1325.4) rotate(-90)" text-anchor="middle">AGB (kg)</text>
<text class="ax" x="357.2" y="1638.3"><tspan class="i">D</tspan><tspan font-size="17" dy="5.5">0</tspan><tspan dy="-5.5" dx="0.6"> (cm)</tspan></text>
<line x1="189" y1="1530" x2="543" y2="1152.5" stroke="#000" stroke-width="1.7"/>
<use href="#ot" x="311.2" y="1402.2"/>
<use href="#ot" x="391.8" y="1287.7"/>
<use href="#ot" x="376.8" y="1313.9"/>
<use href="#ot" x="385.8" y="1317.6"/>
<use href="#ot" x="354.4" y="1346.8"/>
<use href="#ot" x="412.8" y="1282.5"/>
<use href="#ot" x="424" y="1269"/>
<use href="#ot" x="394.8" y="1310.9"/>
<use href="#ot" x="478.6" y="1207.8"/>
<use href="#ot" x="465.1" y="1220.6"/>
<use href="#ot" x="446.4" y="1242.3"/>
<use href="#ot" x="424.7" y="1267.7"/>
<use href="#ot" x="412.7" y="1282.7"/>
<use href="#sq" x="534.7" y="1171.9"/>
<use href="#sq" x="528" y="1174.2"/>
<use href="#sq" x="516.8" y="1185.4"/>
<use href="#sq" x="499.6" y="1191.4"/>
<use href="#sq" x="471.1" y="1219.8"/>
<use href="#sq" x="435.9" y="1265.5"/>
<use href="#oc" x="322.9" y="1373"/>
<use href="#oc" x="321.4" y="1389.5"/>
<use href="#oc" x="360.4" y="1341.6"/>
<use href="#oc" x="371.6" y="1345.3"/>
<use href="#oc" x="423.2" y="1277.2"/>
<use href="#oc" x="415.7" y="1294.4"/>
<use href="#oc" x="540" y="1154.7"/>
<use href="#oc" x="517.5" y="1171.2"/>
<use href="#oc" x="522" y="1169.7"/>
<use href="#oc" x="523.5" y="1183.1"/>
<use href="#oc" x="506.3" y="1187.6"/>
<use href="#oc" x="477.8" y="1213.1"/>
<use href="#oc" x="459.1" y="1236.3"/>
<use href="#oc" x="425.4" y="1276"/>
<use href="#oc" x="443.4" y="1251.3"/>
<use href="#st" x="352.9" y="1337.8"/>
<use href="#st" x="361.9" y="1327.4"/>
<use href="#st" x="368.6" y="1326.6"/>
<use href="#st" x="412.8" y="1277.2"/>
<use href="#st" x="494.3" y="1202.6"/>
<use href="#st" x="433.7" y="1253.5"/>
<use href="#st" x="412.7" y="1276.7"/>
<use href="#ft" x="234.9" y="1480.8"/>
<use href="#ft" x="258.1" y="1458.4"/>
<use href="#ft" x="268.5" y="1442.7"/>
<use href="#ft" x="276" y="1444.9"/>
<use href="#ft" x="289.5" y="1424"/>
<use href="#ft" x="309" y="1426.2"/>
<use href="#ft" x="317.9" y="1415.7"/>
<use href="#ft" x="394.8" y="1329.6"/>
<use href="#ft" x="374.6" y="1360.3"/>
<use href="#ft" x="363.4" y="1354.3"/>
<use href="#ft" x="318.4" y="1417.2"/>
<use href="#ft" x="390.3" y="1300.4"/>
<use href="#ft" x="400.8" y="1294.4"/>
<use href="#ft" x="408.3" y="1292.9"/>
<use href="#ft" x="424.7" y="1297.4"/>
<use href="#ft" x="427.7" y="1284"/>
<use href="#ft" x="441.2" y="1270.5"/>
<use href="#ft" x="375.3" y="1328.9"/>
<use href="#ft" x="367.8" y="1334.9"/>
<use href="#ft" x="339.4" y="1364.8"/>
<use href="#ft" x="328.9" y="1381.3"/>
<use href="#ft" x="337.9" y="1385.7"/>
<use href="#ft" x="403.8" y="1304.9"/>
<use href="#ft" x="409.8" y="1309.4"/>
<use href="#ft" x="397.8" y="1312.4"/>
<use href="#ft" x="421.7" y="1289.9"/>
<use href="#ft" x="432.2" y="1275"/>
<use href="#ft" x="378.3" y="1337.8"/>
<use href="#ft" x="306.5" y="1423.2"/>
<use href="#ft" x="477.8" y="1230.3"/>
<use href="#ft" x="467.4" y="1237.8"/>
<use href="#ft" x="456.9" y="1246.8"/>
<use href="#ft" x="441.9" y="1270.7"/>
<use href="#ft" x="432.9" y="1273.7"/>
<use href="#ft" x="426.9" y="1285.7"/>
<use href="#ft" x="404.5" y="1291.7"/>
<use href="#ft" x="422.5" y="1290.2"/>
<use href="#fc" x="190.7" y="1512.3"/>
<use href="#fc" x="189.9" y="1516.8"/>
<use href="#fc" x="195.2" y="1522"/>
<use href="#fc" x="202.7" y="1519"/>
<use href="#fc" x="214.6" y="1503.3"/>
<use href="#fc" x="212.4" y="1509.3"/>
<use href="#fc" x="223.6" y="1510"/>
<use href="#fc" x="214.6" y="1519"/>
<use href="#fc" x="232.6" y="1489.1"/>
<use href="#fc" x="232.6" y="1479.3"/>
<use href="#fc" x="247.3" y="1468.9"/>
<use href="#fc" x="258.1" y="1462.1"/>
<use href="#fc" x="252.4" y="1491.3"/>
<use href="#fc" x="270.8" y="1476.3"/>
<use href="#fc" x="299.2" y="1428.4"/>
<use href="#fc" x="326.2" y="1400.7"/>
<use href="#fc" x="335.1" y="1398.5"/>
<use href="#fc" x="384.3" y="1343.8"/>
<use href="#fc" x="348.4" y="1361.8"/>
<use href="#fc" x="352.9" y="1366.3"/>
<use href="#fc" x="355.9" y="1378.3"/>
<use href="#fc" x="349.9" y="1384.3"/>
<use href="#fc" x="334.9" y="1394.7"/>
<use href="#fc" x="325.9" y="1400.7"/>
<use href="#fc" x="346.9" y="1373.8"/>
<use href="#fc" x="400.8" y="1319.9"/>
<use href="#fc" x="405.3" y="1310.9"/>
<use href="#fc" x="415.7" y="1303.4"/>
<use href="#fc" x="296" y="1424.7"/>
<use href="#fc" x="491.3" y="1210.1"/>
<use href="#fc" x="444.9" y="1254.3"/>
<use href="#ft" x="368.4" y="1333.6"/>
<use href="#ft" x="372.2" y="1337.4"/>
<use href="#ft" x="364.7" y="1341.1"/>
<use href="#ft" x="404.4" y="1294.7"/>
<use href="#ft" x="407.4" y="1307.4"/>
<use href="#ft" x="401.4" y="1314.9"/>
<use href="#ft" x="414.9" y="1299.9"/>
<use href="#ft" x="396.9" y="1305.9"/>
<use href="#stl" transform="translate(420.4 1390.8) scale(1.06)"/>
<text class="lg" x="439.1" y="1397.5"><tspan class="i">Glochidion</tspan> sp.</text>
<use href="#oc" transform="translate(421.7 1417.4) scale(1.06)"/>
<text class="lg" x="438.9" y="1425.8"><tspan class="i">Macaranga gigantea</tspan></text>
<use href="#fc" transform="translate(422 1446.1) scale(1.06)"/>
<text class="lg" x="438.9" y="1454.7"><tspan class="i">M. bancana</tspan></text>
<use href="#sq" transform="translate(421.7 1475.2) scale(1.06)"/>
<text class="lg" x="438.9" y="1483.8"><tspan class="i">M. beccariana</tspan></text>
<use href="#ot" transform="translate(423.2 1506.8) scale(1.06)"/>
<text class="lg" x="442.2" y="1514.1"><tspan class="i">Ficus stolonifera</tspan></text>
<use href="#ft" transform="translate(423.8 1535) scale(1.06)"/>
<text class="lg" x="442.3" y="1542">Other species</text>
</g>
<g id="panel-f">
<path d="M837 1118.8V1566.2H1295.1" fill="none" stroke="#000" stroke-width="2"/>
<path d="M837 1119.8h6.6M837 1183.57h6.6M837 1247.34h6.6M837 1311.11h6.6M837 1374.89h6.6M837 1438.66h6.6M837 1502.43h6.6M989.6 1566.2v-6.8M1141.2 1566.2v-6.8M1294.1 1566.2v-6.8" fill="none" stroke="#000" stroke-width="1.9"/>
<text class="tk" x="827.4" y="1130" text-anchor="end">1000.0000</text>
<text class="tk" x="827.26" y="1193.77" text-anchor="end">100.0000</text>
<text class="tk" x="827.11" y="1257.54" text-anchor="end">10.0000</text>
<text class="tk" x="826.97" y="1321.31" text-anchor="end">1.0000</text>
<text class="tk" x="826.83" y="1385.09" text-anchor="end">0.1000</text>
<text class="tk" x="826.69" y="1448.86" text-anchor="end">0.0100</text>
<text class="tk" x="826.54" y="1512.63" text-anchor="end">0.0010</text>
<text class="tk" x="826.4" y="1576.4" text-anchor="end">0.0001</text>
<text class="tk" x="819.2" y="1601.2">0.1</text>
<text class="tk" x="974.3" y="1601.2">1.0</text>
<text class="tk" x="1117.6" y="1601.2">10.0</text>
<text class="tk" x="1266.4" y="1601.2">100.0</text>
<text class="tag" x="877.5" y="1165.8">(f)</text>
<text class="ax" transform="translate(713.3 1325.7) rotate(-90)" text-anchor="middle">AGB (kg)</text>
<text class="ax" x="1026" y="1637.5">dbh (cm)</text>
<line x1="840.5" y1="1517.5" x2="1212" y2="1157" stroke="#000" stroke-width="2.0"/>
<use href="#ot" x="984" y="1401.2"/>
<use href="#ot" x="1040.4" y="1311.3"/>
<use href="#ot" x="1050.1" y="1312.8"/>
<use href="#ot" x="1065.1" y="1282.9"/>
<use href="#ot" x="1077" y="1278.4"/>
<use href="#ot" x="1088.3" y="1264.9"/>
<use href="#ot" x="1111.5" y="1241"/>
<use href="#ot" x="1145.9" y="1204.3"/>
<use href="#ot" x="1134.6" y="1217.8"/>
<use href="#ot" x="1111.4" y="1240.3"/>
<use href="#ot" x="1087.5" y="1265.7"/>
<use href="#sq" x="1104" y="1259"/>
<use href="#sq" x="1108.5" y="1264.9"/>
<use href="#sq" x="1125.7" y="1248.5"/>
<use href="#sq" x="1198.3" y="1166.9"/>
<use href="#sq" x="1190" y="1168.4"/>
<use href="#sq" x="1183.3" y="1178.1"/>
<use href="#sq" x="1171.3" y="1186.4"/>
<use href="#sq" x="1142.9" y="1213.3"/>
<use href="#sq" x="1145.9" y="1222.3"/>
<use href="#sq" x="1124.9" y="1241.8"/>
<use href="#sq" x="1124.9" y="1249.3"/>
<use href="#oc" x="979" y="1372"/>
<use href="#oc" x="974.5" y="1389.2"/>
<use href="#oc" x="1033.6" y="1342.8"/>
<use href="#oc" x="1110.7" y="1267.9"/>
<use href="#oc" x="1106.2" y="1250"/>
<use href="#oc" x="1089.8" y="1272.4"/>
<use href="#oc" x="1106.2" y="1254.5"/>
<use href="#oc" x="1061.3" y="1312.8"/>
<use href="#oc" x="1210.2" y="1150.7"/>
<use href="#oc" x="1195.3" y="1166.2"/>
<use href="#oc" x="1190.8" y="1167.7"/>
<use href="#oc" x="1188.5" y="1178.9"/>
<use href="#oc" x="1180.3" y="1183.4"/>
<use href="#oc" x="1154.1" y="1210.3"/>
<use href="#oc" x="1137.6" y="1231.3"/>
<use href="#st" x="1014.2" y="1333.8"/>
<use href="#st" x="1076.3" y="1273.9"/>
<use href="#st" x="1032.1" y="1324.8"/>
<use href="#st" x="1158.6" y="1198.4"/>
<use href="#ft" x="840.2" y="1491"/>
<use href="#ft" x="890.4" y="1455.8"/>
<use href="#ft" x="905.1" y="1440.8"/>
<use href="#ft" x="916.6" y="1444.6"/>
<use href="#ft" x="919.1" y="1422.1"/>
<use href="#ft" x="960.3" y="1424.4"/>
<use href="#ft" x="972.7" y="1414.6"/>
<use href="#ft" x="983.2" y="1377.2"/>
<use href="#ft" x="989.9" y="1387.7"/>
<use href="#ft" x="997.4" y="1384.7"/>
<use href="#ft" x="996.7" y="1364.5"/>
<use href="#ft" x="1004.2" y="1366"/>
<use href="#ft" x="1035.1" y="1357.8"/>
<use href="#ft" x="1022.4" y="1353.3"/>
<use href="#ft" x="996.9" y="1384.7"/>
<use href="#ft" x="985" y="1378.7"/>
<use href="#ft" x="996.9" y="1366.7"/>
<use href="#ft" x="1008.9" y="1363.7"/>
<use href="#ft" x="1057.6" y="1326.3"/>
<use href="#ft" x="1026.9" y="1327.8"/>
<use href="#ft" x="1041.9" y="1326.3"/>
<use href="#ft" x="1047.8" y="1296.4"/>
<use href="#ft" x="1056.8" y="1297.9"/>
<use href="#ft" x="1065.8" y="1294.9"/>
<use href="#ft" x="1071.8" y="1311.3"/>
<use href="#ft" x="1089" y="1294.9"/>
<use href="#ft" x="1077.8" y="1290.4"/>
<use href="#ft" x="1089.8" y="1281.4"/>
<use href="#ft" x="1094.3" y="1272.4"/>
<use href="#ft" x="1128.7" y="1242.5"/>
<use href="#ft" x="1139.2" y="1235"/>
<use href="#ft" x="1119.7" y="1250"/>
<use href="#ft" x="1059.8" y="1308.4"/>
<use href="#ft" x="1028.4" y="1342.8"/>
<use href="#ft" x="1037.4" y="1333.8"/>
<use href="#ft" x="1067.3" y="1305.4"/>
<use href="#ft" x="1139.9" y="1234.3"/>
<use href="#ft" x="1129.4" y="1243.3"/>
<use href="#ft" x="1120.4" y="1250.7"/>
<use href="#ft" x="1095" y="1276.2"/>
<use href="#ft" x="1087.5" y="1283.7"/>
<use href="#ft" x="1142.9" y="1223.8"/>
<use href="#fc" x="954.3" y="1395.6"/>
<use href="#fc" x="1007.2" y="1367.5"/>
<use href="#fc" x="1004.2" y="1361.5"/>
<use href="#fc" x="1045.6" y="1342"/>
<use href="#fc" x="1006.7" y="1359.3"/>
<use href="#fc" x="1005.9" y="1368.2"/>
<use href="#fc" x="1062.8" y="1315.8"/>
<use href="#fc" x="1070.3" y="1303.9"/>
<use href="#fc" x="1095.7" y="1267.9"/>
<use href="#fc" x="1157.1" y="1205.8"/>
<use href="#fc" x="1142.9" y="1228.3"/>
<use href="#fc" x="1093.5" y="1268.7"/>
</g>
</svg></body></html>
